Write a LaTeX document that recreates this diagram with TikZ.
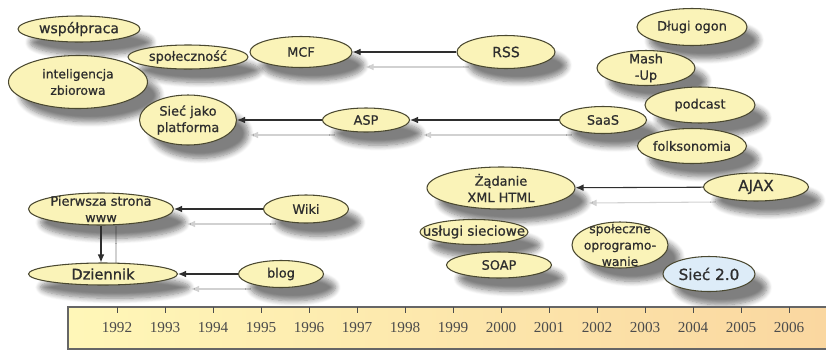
\documentclass[tikz,border=0pt]{standalone}
\usepackage{fontspec}
\setmainfont{Liberation Serif}
\setsansfont{DejaVu Sans}[FakeBold=0.8]
\usetikzlibrary{shapes.geometric,arrows.meta,shadows.blur,backgrounds}
\definecolor{bubblefill}{HTML}{FAF3B8}
\definecolor{bubbleline}{HTML}{4A4830}
\definecolor{webfill}{HTML}{DDECF8}
\definecolor{barleft}{HTML}{FFF7B8}
\definecolor{barright}{HTML}{FAD7A0}
\definecolor{ink}{HTML}{2E2E2E}
\tikzset{
	bubble/.style={ellipse, draw=bubbleline, line width=0.9pt, fill=bubblefill, inner sep=0pt,
		blur shadow={shadow xshift=3.6mm, shadow yshift=-4mm, shadow opacity=50, shadow blur radius=1.6mm, shadow blur steps=8}},
	bubbletext/.style={inner sep=0pt, align=center, text=ink},
	blob/.style n args={4}{minimum width=#1*0.03cm, minimum height=#2*0.03cm,
		label={[bubbletext, font=\sffamily\fontsize{#3}{14}\selectfont]center:#4}},
	link/.style={draw=ink, line width=0.9pt, -{Latex[length=2.4mm,width=2mm]}},
	ghost/.style={draw=black!18, line width=0.9pt, -{Latex[length=2.4mm,width=2mm]}},
	year/.style={text=black!70, font=\fontsize{13}{15}\selectfont}
}
\begin{document}
\begin{tikzpicture}[x=0.03cm, y=-0.03cm]
	\useasboundingbox (0,0) rectangle (826,352);
	\node[bubble, blob={122}{26}{12}{współpraca}] (wsp) at (79,29) {};
	\node[bubble, blob={110}{37}{11}{Długi ogon}] (ogon) at (692,27) {};
	\node[bubble, blob={120}{24}{11}{społeczność}] (spo) at (188,57) {};
	\node[bubble, blob={102}{31}{11}{MCF}] (mcf) at (301,52) {};
	\node[bubble, blob={98}{33}{12}{RSS}] (rss) at (506,52) {};
	\node[bubble, blob={98}{35}{11}{Mash\\-Up}] (mash) at (646,68) {};
	\node[bubble, blob={139}{53}{10.5}{inteligencja\\zbiorowa}] (intel) at (78,82) {};
	\node[bubble, blob={110}{36}{11}{podcast}] (pod) at (700,105) {};
	\node[bubble, blob={97}{50}{11}{Sieć jako\\platforma}] (siec) at (188,120) {};
	\node[bubble, blob={87}{24}{11}{ASP}] (asp) at (366,120) {};
	\node[bubble, blob={87}{27}{11}{SaaS}] (saas) at (603,120) {};
	\node[bubble, blob={109}{35}{11}{folksonomia}] (folk) at (692,146) {};
	\node[bubble, blob={148}{42}{11}{Żądanie\\XML HTML}] (xhr) at (501,188) {};
	\node[bubble, blob={105}{28}{13}{AJAX}] (ajax) at (756,187) {};
	\node[bubble, blob={145}{32}{11}{Pierwsza strona\\www}] (www) at (101,209) {};
	\node[bubble, blob={85}{28}{11}{Wiki}] (wiki) at (306,209) {};
	\node[bubble, blob={108}{25}{11.5}{usługi sieciowe}] (ws) at (474,232) {};
	\node[bubble, blob={96}{46}{10.5}{społeczne\\oprogramo-\\wanie}] (soc) at (620,245) {};
	\node[bubble, blob={105}{26}{11}{SOAP}] (soap) at (499,265) {};
	\node[bubble, blob={149}{22}{12.5}{Dziennik}] (dz) at (103,274) {};
	\node[bubble, blob={85}{27}{11}{blog}] (blog) at (281,274) {};
	\node[bubble, fill=webfill, blob={92}{35}{13}{Sieć 2.0}] (web) at (709,274) {};
	\begin{scope}[on background layer]
		\path[ghost] ([shift={(13,15)}]rss.west) -- ([shift={(13,15)}]mcf.east);
		\path[ghost] ([shift={(13,15)}]saas.west) -- ([shift={(13,15)}]asp.east);
		\path[ghost] ([shift={(13,15)}]asp.west) -- ([shift={(13,15)}]siec.east);
		\path[ghost] ([shift={(13,15)}]ajax.west) -- ([shift={(13,15)}]xhr.east);
		\path[ghost] ([shift={(13,15)}]wiki.west) -- ([shift={(13,15)}]www.east);
		\path[ghost] ([shift={(13,15)}]blog.west) -- ([shift={(13,15)}]dz.east);
		\path[ghost] ([shift={(15,0)}]www.south) -- ([shift={(15,12)}]www.south |- dz.north);
	\end{scope}
	\path[link] (rss) -- (mcf);
	\path[link] (saas) -- (asp);
	\path[link] (asp) -- (siec);
	\path[link] (ajax) -- (xhr);
	\path[link] (wiki) -- (www);
	\path[link] (blog) -- (dz);
	\path[link] (www.south) -- (www.south |- dz.north);
	\shade[left color=barleft, right color=barright] (68,307) rectangle (826,349);
	\path[draw=black!60, line width=1pt] (826,307) -- (68,307) -- (68,349) -- (826,349);
	\foreach \yr [count=\i from 0] in {1992,...,2006} {
		\path[draw=black!70, line width=0.8pt] (117+48*\i,307) -- (117+48*\i,313);
		\node[year] (y\yr) at (117+48*\i,328) {\yr};
	}
\end{tikzpicture}
\end{document}
